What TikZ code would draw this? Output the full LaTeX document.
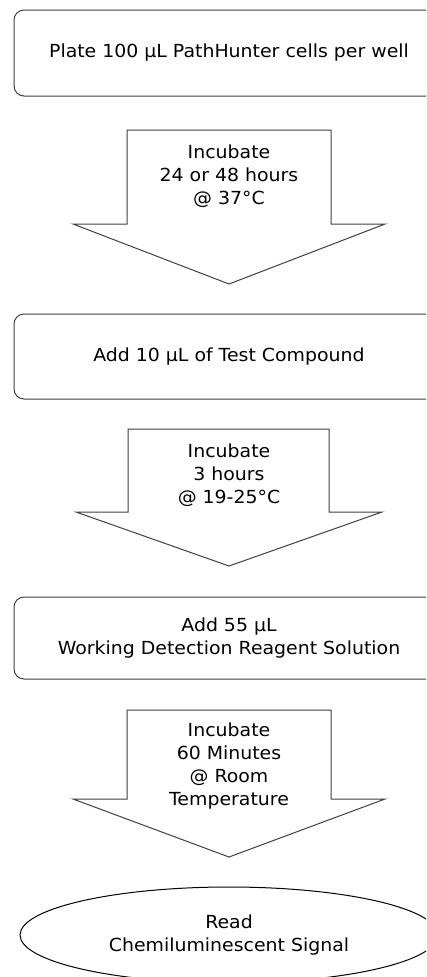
\documentclass[tikz,border=0pt]{standalone}
\usepackage{fontspec}
\setmainfont{DejaVu Sans}[FakeStretch=1.05]
\usetikzlibrary{shapes.geometric}
\definecolor{edge}{HTML}{404040}
\tikzset{
  labelfont/.style={font=\fontsize{18}{23}\selectfont},
  stepbox/.style={draw=edge, line width=1pt, rounded corners=10pt, fill=white,
    minimum width=430pt, inner sep=0pt, align=center, labelfont},
  blockarrow/.style={draw=edge, line width=1pt, fill=white, line join=miter},
  arrowtext/.style={align=center, inner sep=0pt, labelfont},
  readout/.style={draw=black, line width=1pt, ellipse, minimum width=418pt, minimum height=96pt,
    inner sep=0pt, align=center, labelfont}
}
\begin{document}
\begin{tikzpicture}[x=1pt, y=-1pt]
  \useasboundingbox (0,0) rectangle (426,977);
  \clip (0,0) rectangle (426,977);
  \fill[white] (0,0) rectangle (426,977);

  % process steps
  \node[stepbox, minimum height=86pt] (plate) at (229,53) {Plate 100 µL PathHunter cells per well};
  \node[stepbox, minimum height=85pt] (compound) at (229,356.5) {Add 10 µL of Test Compound};
  \node[stepbox, minimum height=82pt] (reagent) at (229,638) {Add 55 µL\\Working Detection Reagent Solution};
  \node[readout] (read) at (229,935) {Read\\Chemiluminescent Signal};

  % block arrows between steps
  \draw[blockarrow] (127,130) -- (331,130) -- (331,224) -- (385,224) -- (229,284)
    -- (73,224) -- (127,224) -- cycle;
  \node[arrowtext] (inc1) at (229,176) {Incubate\\24 or 48 hours\\@ 37°C};

  \draw[blockarrow] (128,429) -- (329,429) -- (329,512) -- (382,512) -- (229,566)
    -- (76,512) -- (128,512) -- cycle;
  \node[arrowtext] (inc2) at (229,475) {Incubate\\3 hours\\@ 19-25°C};

  \draw[blockarrow] (127,710) -- (331,710) -- (331,799) -- (385,799) -- (229,857)
    -- (73,799) -- (127,799) -- cycle;
  \node[arrowtext] (inc3) at (229,766) {Incubate\\60 Minutes\\@ Room\\Temperature};
\end{tikzpicture}
\end{document}
